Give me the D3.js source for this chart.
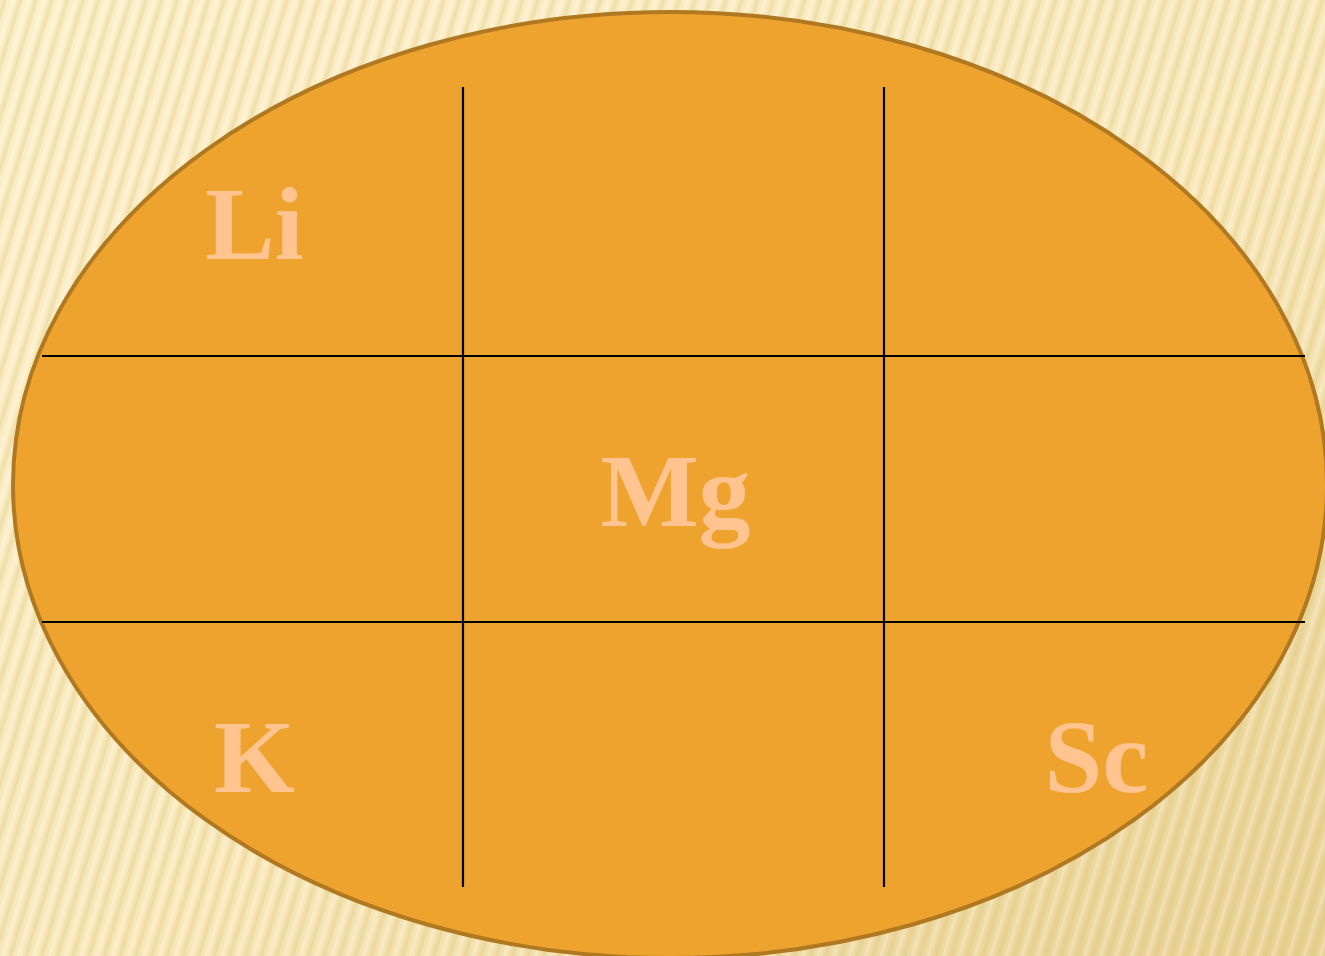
<!DOCTYPE html>
<html><head><meta charset="utf-8">
<script src="https://cdn.jsdelivr.net/npm/d3@7"></script>
<style>html,body{margin:0;padding:0;overflow:hidden;background:#fbeec5}</style>
</head><body>
<svg id="c" width="1325" height="956"></svg>
<script>
const rows = [0, 1, 2];
const cols = [0, 1, 2];
const labels = ["Li", "Mg", "K", "Sc"];
const labelRows = [0, 1, 2, 2];
const labelCols = [0, 1, 0, 2];

const W = 1325, H = 956;
const svg = d3.select("#c");
const defs = svg.append("defs");

const bg = defs.append("linearGradient").attr("id","bg").attr("x1","0").attr("y1","0").attr("x2","1").attr("y2","1");
bg.append("stop").attr("offset","0%").attr("stop-color","#fdf1cc");
bg.append("stop").attr("offset","55%").attr("stop-color","#f9e9bb");
bg.append("stop").attr("offset","100%").attr("stop-color","#e8d193");

const sg = defs.append("linearGradient").attr("id","sg").attr("x1","0").attr("x2","1");
sg.append("stop").attr("offset","0").attr("stop-color","#d8bd70").attr("stop-opacity",0);
sg.append("stop").attr("offset","0.3").attr("stop-color","#d8bd70").attr("stop-opacity",0.35);
sg.append("stop").attr("offset","0.55").attr("stop-color","#d8bd70").attr("stop-opacity",0);
sg.append("stop").attr("offset","0.75").attr("stop-color","#ffffff").attr("stop-opacity",0.3);
sg.append("stop").attr("offset","1").attr("stop-color","#ffffff").attr("stop-opacity",0);

const pat = defs.append("pattern").attr("id","stripes").attr("patternUnits","userSpaceOnUse")
  .attr("width",15).attr("height",15).attr("patternTransform","rotate(17)");
pat.append("rect").attr("x",0).attr("y",0).attr("width",15).attr("height",15).attr("fill","url(#sg)");

svg.append("rect").attr("width",W).attr("height",H).attr("fill","url(#bg)");
svg.append("rect").attr("width",W).attr("height",H).attr("fill","url(#stripes)");

// ellipse
svg.append("ellipse").attr("cx",670).attr("cy",485).attr("rx",657).attr("ry",473)
  .attr("fill","#efa32f").attr("stroke","#b07820").attr("stroke-width",4);

const x = d3.scaleLinear().domain([0, 3]).range([42, 1305]);
const y = d3.scaleLinear().domain([0, 1, 2, 3]).range([87, 356, 622, 887]);

const g = svg.append("g").attr("stroke","#000").attr("stroke-width",2.2);
[1, 2].forEach(c => {
  g.append("line").attr("x1", x(c)).attr("x2", x(c)).attr("y1", y(0)).attr("y2", y(3));
});
[1, 2].forEach(r => {
  g.append("line").attr("x1", x(0)).attr("x2", x(3)).attr("y1", y(r)).attr("y2", y(r));
});

svg.append("g").selectAll("text").data(labels).join("text")
  .attr("x", (d,i) => (x(labelCols[i]) + x(labelCols[i] + 1)) / 2 + 2)
  .attr("y", (d,i) => (y(labelRows[i]) + y(labelRows[i] + 1)) / 2 + 37)
  .attr("text-anchor","middle")
  .attr("font-family","'Liberation Serif','DejaVu Serif',serif")
  .attr("font-weight","bold")
  .attr("font-size",104)
  .attr("fill","#ffc48f")
  .text(d => d);
</script>
</body></html>
